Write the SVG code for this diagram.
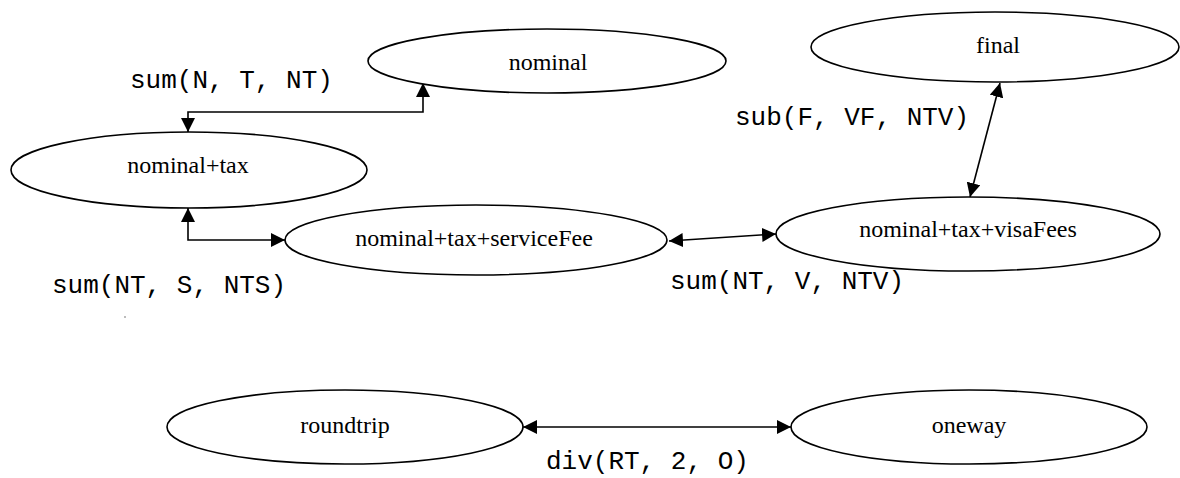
<svg xmlns="http://www.w3.org/2000/svg" width="1180" height="478" viewBox="0 0 1180 478">
<style>
.node ellipse{fill:#fff;stroke:#000;stroke-width:1.6}
.node text{font-family:"Liberation Serif","Times New Roman",serif;font-size:24px;text-anchor:middle;fill:#000}
.lbl{font-family:"Liberation Mono","Courier New",monospace;font-size:26px;fill:#000}
.edge{fill:none;stroke:#000;stroke-width:1.6;marker-start:url(#ah);marker-end:url(#ah)}
</style>
<defs>
<marker id="ah" viewBox="0 0 14 14" refX="14" refY="7" markerWidth="14" markerHeight="14" markerUnits="userSpaceOnUse" orient="auto-start-reverse">
<path d="M0,0 L14,7 L0,14 z" fill="#000"/>
</marker>
</defs>
<rect width="1180" height="478" fill="#fff"/>
<g id="connectors">
<path class="edge" d="M188,132 V112 H423 V83"/>
<path class="edge" d="M188,208 V240 H285"/>
<path class="edge" d="M669,241 L776,234"/>
<path class="edge" d="M1000,83 L970,197"/>
<path class="edge" d="M523,427 H791"/>
</g>
<g id="nominal" class="node"><ellipse cx="547" cy="61" rx="179" ry="32"/><text x="548" y="70">nominal</text></g>
<g id="nominal_tax" class="node"><ellipse cx="189" cy="170" rx="178" ry="38"/><text x="188" y="173">nominal+tax</text></g>
<g id="nominal_tax_serviceFee" class="node"><ellipse cx="476" cy="240" rx="191" ry="35"/><text x="474" y="246">nominal+tax+serviceFee</text></g>
<g id="nominal_tax_visaFees" class="node"><ellipse cx="968" cy="234" rx="192" ry="37"/><text x="968" y="237">nominal+tax+visaFees</text></g>
<g id="final" class="node"><ellipse cx="995" cy="47" rx="184" ry="35"/><text x="998" y="53">final</text></g>
<g id="roundtrip" class="node"><ellipse cx="345" cy="427" rx="178" ry="37"/><text x="345" y="433">roundtrip</text></g>
<g id="oneway" class="node"><ellipse cx="969" cy="427" rx="178" ry="37"/><text x="969" y="433">oneway</text></g>
<g id="labels">
<text class="lbl" x="130" y="88">sum(N, T, NT)</text>
<text class="lbl" x="52" y="293">sum(NT, S, NTS)</text>
<text class="lbl" x="670" y="289">sum(NT, V, NTV)</text>
<text class="lbl" x="735" y="125">sub(F, VF, NTV)</text>
<text class="lbl" x="546" y="469">div(RT, 2, O)</text>
</g>
<circle cx="125" cy="317" r="0.8" fill="#666"/>
</svg>
